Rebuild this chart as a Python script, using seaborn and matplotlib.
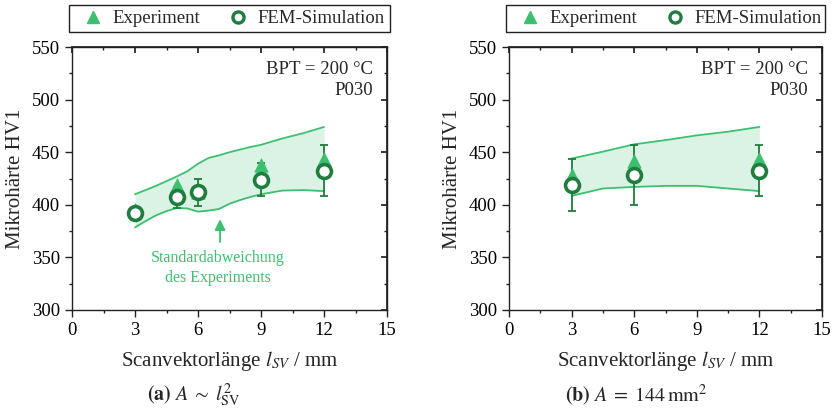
import matplotlib
matplotlib.use("Agg")
import matplotlib.pyplot as plt
import seaborn as sns
import pandas as pd
import numpy as np
from matplotlib.lines import Line2D
from matplotlib.patches import Rectangle
from matplotlib.ticker import MultipleLocator

# ---------------- data ----------------
x_a = [3, 5, 6, 9, 12]
exp_a = [395, 419, 412, 438, 444]
fem_a = [392, 407, 412.5, 424, 432.5]
fem_a_lo = [386, 397, 399, 408.5, 408.5]
fem_a_hi = [398, 417, 425, 440, 456.5]

band_a_x = [3, 3.5, 4, 4.5, 5, 5.5, 6, 6.5, 7, 7.5, 8, 8.5, 9, 10, 11, 12]
band_a_up = [410, 414, 418, 422.5, 427, 432, 439, 444.5, 447, 450, 452.5, 455,
             457, 463, 468, 474]
band_a_lo = [378.5, 384.5, 390, 394, 397, 396.5, 393.5, 394.5, 396, 401, 404.5,
             407.5, 410, 413.5, 414, 413]

x_b = [3, 6, 12]
exp_b = [428, 442, 444]
fem_b = [418.5, 428.5, 432.5]
fem_b_lo = [394, 400, 408.5]
fem_b_hi = [443.5, 457, 456.5]

band_b_x = [3, 4.5, 6, 7.5, 9, 10.5, 12]
band_b_up = [444, 450.5, 457.5, 461.5, 466, 469.5, 474]
band_b_lo = [408.5, 415.5, 417, 418, 418, 415.5, 413]

xticks = [0, 3, 6, 9, 12, 15]
yticks = [300, 350, 400, 450, 500, 550]

# ---------------- style ----------------
sns.set_theme(style="ticks")
plt.rcParams["font.family"] = ["Liberation Serif", "DejaVu Serif"]
plt.rcParams["mathtext.fontset"] = "stix"
plt.rcParams["font.size"] = 13.5

GREEN = "#3cc070"
DARK = "#1f7d3f"
FS = 13.5
LFS = 15

W, H = 836, 413
fig = plt.figure(figsize=(W / 100, H / 100), dpi=100)
ax_a = fig.add_axes([72/W, 103/H, 315/W, 263/H])
ax_b = fig.add_axes([509/W, 103/H, 313/W, 263/H])


def draw(ax, x, exp, fem, lo, hi, bx, bup, blo, box_left, box_right,
         cap_x, caption):
    dfb = pd.DataFrame({"x": bx, "up": bup, "lo": blo})
    ax.fill_between(dfb["x"], dfb["lo"], dfb["up"], color=GREEN, alpha=0.18,
                    linewidth=0, zorder=1)
    sns.lineplot(data=dfb, x="x", y="up", ax=ax, color=GREEN, lw=1.3, zorder=2)
    sns.lineplot(data=dfb, x="x", y="lo", ax=ax, color=GREEN, lw=1.3, zorder=2)

    fem = np.array(fem)
    yerr = [fem - np.array(lo), np.array(hi) - fem]
    ax.errorbar(x, fem, yerr=yerr, fmt="none", ecolor=DARK, elinewidth=1.3,
                capsize=3, capthick=1.3, zorder=3)

    dfp = pd.DataFrame({"x": x, "exp": exp, "fem": fem})
    sns.scatterplot(data=dfp, x="x", y="exp", ax=ax, marker="^", s=95,
                    color=GREEN, edgecolor=GREEN, linewidth=0.5, zorder=4)
    sns.scatterplot(data=dfp, x="x", y="fem", ax=ax, marker="o", s=100,
                    facecolor="white", edgecolor=DARK, linewidth=2.6, zorder=5)

    ax.set_xlim(0, 15)
    ax.set_ylim(300, 550)
    ax.set_xticks(xticks)
    ax.set_yticks(yticks)
    ax.xaxis.set_minor_locator(MultipleLocator(1.5))
    ax.yaxis.set_minor_locator(MultipleLocator(25))
    ax.tick_params(which="major", direction="out", length=5, width=1,
                   labelsize=FS, colors="#222222", labelcolor="black")
    ax.tick_params(which="minor", direction="out", length=2.5, width=1,
                   colors="#222222")
    for s in ax.spines.values():
        s.set_visible(True)
        s.set_linewidth(1.0)
        s.set_color("#222222")

    sx = ax.secondary_xaxis("top")
    sx.set_xticks(xticks)
    sx.xaxis.set_minor_locator(MultipleLocator(1.5))
    sx.tick_params(which="major", direction="in", length=4, labeltop=False, colors="#222222")
    sx.tick_params(which="minor", direction="in", length=2.5, colors="#222222")
    sy = ax.secondary_yaxis("right")
    sy.set_yticks(yticks)
    sy.yaxis.set_minor_locator(MultipleLocator(25))
    sy.tick_params(which="major", direction="in", length=4, labelright=False, colors="#222222")
    sy.tick_params(which="minor", direction="in", length=2.5, colors="#222222")

    ax.set_xlabel(r"Scanvektorlänge $l_{SV}$ / mm", fontsize=LFS, labelpad=7)
    ax.set_ylabel("Mikrohärte HV1", fontsize=LFS, labelpad=5)

    ax.text(0.955, 0.945, "BPT = 200 °C\nP030", transform=ax.transAxes,
            ha="right", va="top", fontsize=FS, multialignment="right",
            linespacing=1.25)

    fig.text(cap_x / W, (H - 395) / H, caption, ha="center", va="center",
             fontsize=14.5)

    # legend frame
    fig.add_artist(Rectangle((box_left / W, (H - 32) / H),
                             (box_right - box_left) / W, 27 / H,
                             transform=fig.transFigure, fill=False,
                             edgecolor="#222222", lw=1.0))
    handles = [
        Line2D([], [], marker="^", ls="none", color=GREEN, markersize=9),
        Line2D([], [], marker="o", ls="none", markerfacecolor="white",
               markeredgecolor=DARK, markeredgewidth=2.4, markersize=8),
    ]
    fig.legend(handles, ["Experiment", "FEM-Simulation"], ncol=2,
               loc="center left",
               bbox_to_anchor=((box_left + 24.3 - 9.4) / W, (H - 18.5) / H),
               frameon=False, fontsize=FS, borderpad=0, borderaxespad=0,
               handlelength=1.0, handletextpad=0.5, columnspacing=1.55)


draw(ax_a, x_a, exp_a, fem_a, fem_a_lo, fem_a_hi, band_a_x, band_a_up,
     band_a_lo, 69, 390, 194,
     r"$\mathbf{(a)}\ A\;\sim\;l_{\mathrm{SV}}^{2}$")
draw(ax_b, x_b, exp_b, fem_b, fem_b_lo, fem_b_hi, band_b_x, band_b_up,
     band_b_lo, 506, 825, 636,
     r"$\mathbf{(b)}\ A\;=\;144\,\mathrm{mm}^{2}$")

ax_a.annotate("", xy=(7.05, 389), xytext=(7.05, 362),
              arrowprops=dict(arrowstyle="-|>", color=GREEN, lw=1.3,
                              mutation_scale=16))
ax_a.text(6.95, 340, "Standardabweichung\ndes Experiments", ha="center",
          va="center", color=GREEN, fontsize=11.5, linespacing=1.3)

fig.savefig("out.png", dpi=100)
